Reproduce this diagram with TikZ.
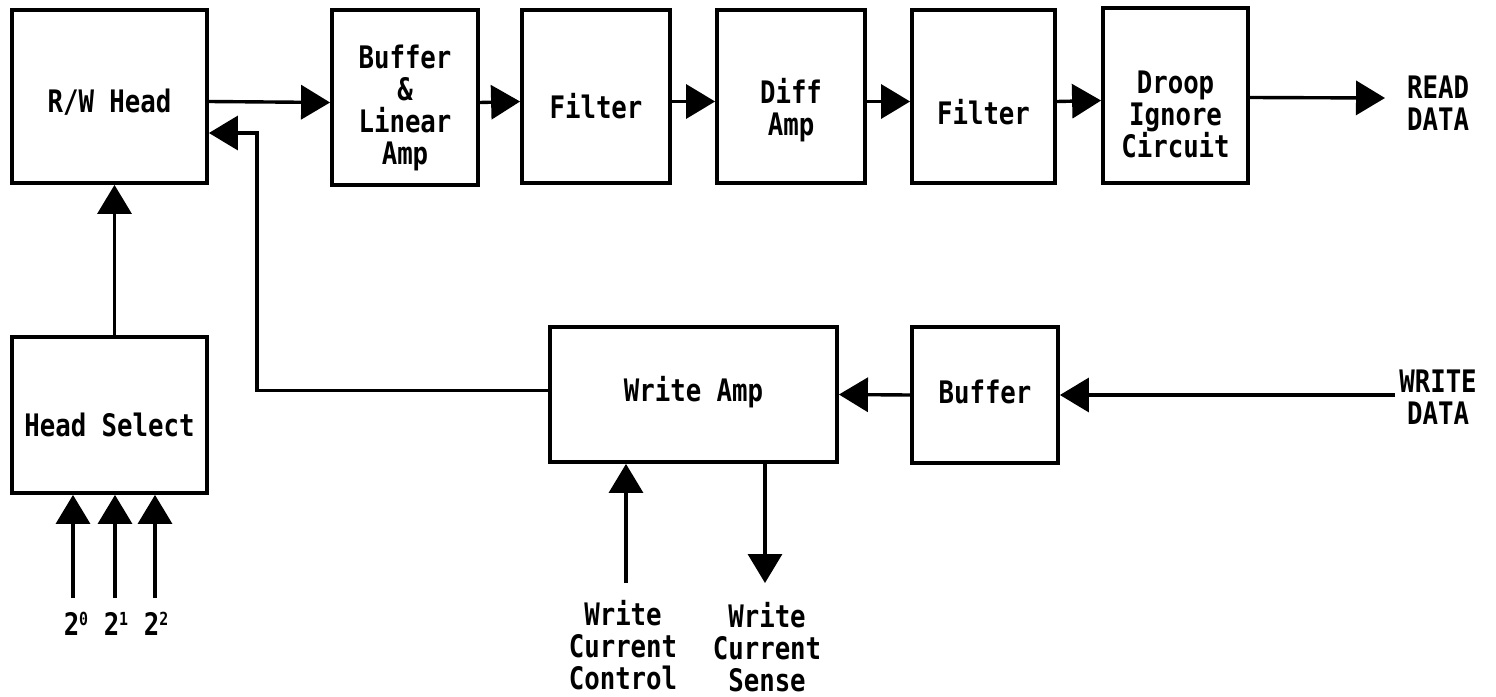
\documentclass[tikz,border=0pt]{standalone}
\usepackage{fontspec}
\setmainfont[FakeStretch=0.83]{DejaVu Sans Mono}
\usetikzlibrary{arrows.meta}
\newcommand\blocktext{\fontsize{31}{32}\selectfont\bfseries}
\newcommand\supdigit[1]{\raisebox{10pt}{\fontsize{18}{18}\selectfont #1}}
\begin{document}
\begin{tikzpicture}[x=1pt,y=-1pt,
  blk/.style={draw, line width=3.8pt, rectangle, inner sep=0pt},
  txt/.style={align=center, font=\blocktext, inner sep=0pt},
  caption/.style 2 args={label={[txt, yshift=-#1pt]center:{#2}}},
  flow/.style={line width=3.4pt, -{Triangle[length=29pt,width=34pt]}}]
\useasboundingbox (0,0) rectangle (1496,696);

% read chain
\node[blk, minimum width=195pt, minimum height=173pt, caption={6}{R/W Head}] (rw) at (109.5,96.5) {};
\node[blk, minimum width=146pt, minimum height=175pt, caption={10}{Buffer\\\&\\Linear\\Amp}] (bla) at (405,97.5) {};
\node[blk, minimum width=148pt, minimum height=173pt, caption={10}{Filter}] (f1) at (596,96.5) {};
\node[blk, minimum width=148pt, minimum height=173pt, caption={14}{Diff\\Amp}] (da) at (791,96.5) {};
\node[blk, minimum width=143pt, minimum height=173pt, caption={16}{Filter}] (f2) at (983.5,96.5) {};
\node[blk, minimum width=145pt, minimum height=175pt, caption={19}{Droop\\Ignore\\Circuit}] (dic) at (1175.5,95.5) {};
\node[txt, anchor=west, align=left] (rd) at (1407,103) {READ\\DATA};
\coordinate (rdin) at (1385,98);

% write chain and head select
\node[blk, minimum width=195pt, minimum height=156pt, caption={10}{Head Select}] (hs) at (109.5,415) {};
\node[blk, minimum width=287pt, minimum height=135pt, caption={-2}{Write Amp}] (wa) at (693.5,394.5) {};
\node[blk, minimum width=146pt, minimum height=136pt, caption={-3}{Buffer}] (wb) at (985,395) {};
\node[txt] (wd) at (1438,397) {WRITE\\DATA};
\coordinate (wdin) at (1395,395);

% read path arrows
\draw[flow] ([yshift=-5pt]rw.east) -- ([yshift=-5pt]bla.west);
\draw[flow] ([yshift=-5pt]bla.east) -- ([yshift=-5pt]f1.west);
\draw[flow] ([yshift=-5pt]f1.east) -- ([yshift=-5pt]da.west);
\draw[flow] ([yshift=-5pt]da.east) -- ([yshift=-5pt]f2.west);
\draw[flow] ([yshift=-5pt]f2.east) -- ([yshift=-5pt]dic.west);
\draw[flow] ([yshift=-2pt]dic.east) -- (rdin);

% write path arrows
\draw[flow] (wdin) -- (wb.east);
\draw[flow] (wb.west) -- (wa.east);
\coordinate (ret) at (257,133);
\draw[flow] ([yshift=4pt]wa.west) -| (ret) -- (ret -| rw.east);

% head select
\draw[flow] ([xshift=5pt]hs.north) -- ([xshift=5pt]rw.south);
\coordinate (a0) at (73,598);
\coordinate (a1) at (115,598);
\coordinate (a2) at (155,598);
\draw[flow] (a0) -- (a0 |- hs.south);
\draw[flow] (a1) -- (a1 |- hs.south);
\draw[flow] (a2) -- (a2 |- hs.south);
\node[txt] (b0) at (76,624) {2\supdigit{0}};
\node[txt] (b1) at (116,624) {2\supdigit{1}};
\node[txt] (b2) at (156,624) {2\supdigit{2}};

% write current lines
\coordinate (wcc) at (626,583);
\coordinate (wcs) at (765,583);
\draw[flow] (wcc) -- (wcc |- wa.south);
\draw[flow] (wcs |- wa.south) -- (wcs);
\node[txt] (wcct) at (623,645) {Write\\Current\\Control};
\node[txt] (wcst) at (767,647) {Write\\Current\\Sense};
\end{tikzpicture}
\end{document}
